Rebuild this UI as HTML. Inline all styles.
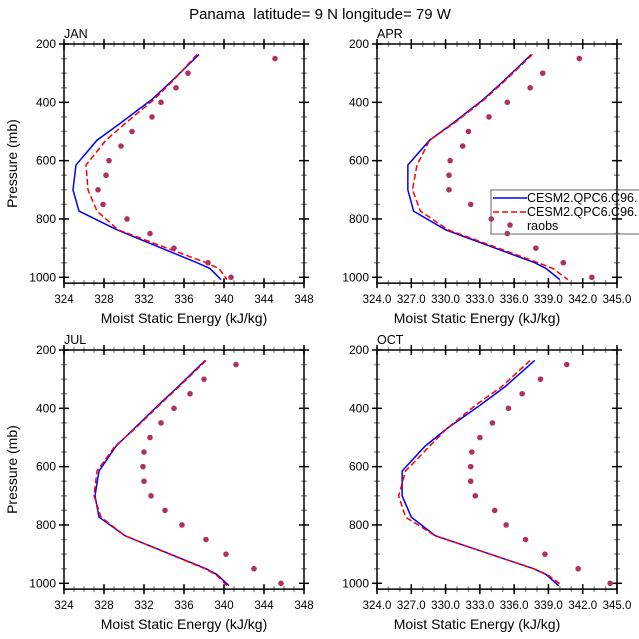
<!DOCTYPE html>
<html><head><meta charset="utf-8"><style>
html,body{margin:0;padding:0;background:#fff;}
svg{display:block;font-family:"Liberation Sans",sans-serif;}
</style></head><body>
<svg id="c" width="639" height="639" viewBox="0 0 639 639" xmlns="http://www.w3.org/2000/svg">
<text x="320" y="19" text-anchor="middle" font-size="15" style="white-space:pre">Panama  latitude= 9 N longitude= 79 W</text>
</svg>
<script>
const levels = [236, 326, 390, 470, 530, 615, 700, 773, 837, 950, 970, 1008];
const obsLevels = [250,300,350,400,450,500,550,600,650,700,750,800,850,900,950,1000];
const panelNames = ["JAN","APR","JUL","OCT"];
const janBlue = [337.5,334.8,332.8,329.7,327.3,325.2,324.9,325.5,329.3,337.3,338.6,339.7];
const janRed  = [337.3,334.9,333.0,330.2,328.2,326.2,326.4,327.3,329.4,338.2,339.5,340.3];
const janObs  = [345.1,336.4,335.2,333.7,332.8,330.8,329.7,328.5,328.2,327.4,327.9,330.3,332.6,335.0,338.4,340.7];
const aprBlue = [337.5,335.1,333.3,330.7,328.6,326.7,326.7,327.2,330.0,337.8,338.8,340.0];
const aprRed  = [337.6,335.2,333.4,330.8,328.6,327.5,327.1,327.8,330.2,338.1,339.4,340.7];
const aprObs  = [341.7,338.5,337.4,335.4,333.8,332.0,331.5,330.4,330.3,330.3,332.2,334.0,335.4,337.9,340.3,342.8];
const julBlue = [338.1,335.4,333.4,331.0,329.2,327.5,327.1,327.5,330.1,338.2,339.3,340.5];
const julRed  = [338.2,335.5,333.5,331.1,329.1,327.3,327.0,327.7,330.1,338.1,339.2,340.3];
const julObs  = [341.2,338.0,336.6,335.0,333.7,332.6,332.0,331.9,332.0,332.7,334.1,335.8,338.2,340.2,343.0,345.7];
const octBlue = [337.8,335.2,333.0,330.1,328.2,326.2,326.2,327.0,329.1,337.7,338.8,339.9];
const octRed  = [337.4,334.9,332.6,330.1,328.6,326.5,325.9,326.5,329.1,337.7,338.9,340.2];
const octObs  = [340.6,338.3,336.7,335.5,334.1,333.0,332.3,332.2,332.2,332.6,334.3,335.3,337.0,338.7,341.6,344.4];
const yTicks = [200,400,600,800,1000];
const xTicksA = [324,328,332,336,340,344,348];
const xTicksB = [324,327,330,333,336,339,342,345];
const legendLabels = ["CESM2.QPC6.C96.","CESM2.QPC6.C96.","raobs"];

const NS="http://www.w3.org/2000/svg";
const svg=document.getElementById('c');
function mk(tag,attrs,parent){const e=document.createElementNS(NS,tag);for(const k in attrs)e.setAttribute(k,attrs[k]);(parent||svg).appendChild(e);return e;}

const panels=[
 {name:panelNames[0],x0:64,x1:304,y0:44,blue:janBlue,red:janRed,obs:janObs,xt:xTicksA,xmin:324,xmax:348,dec:0},
 {name:panelNames[1],x0:377,x1:617,y0:44,blue:aprBlue,red:aprRed,obs:aprObs,xt:xTicksB,xmin:324,xmax:345,dec:1},
 {name:panelNames[2],x0:64,x1:304,y0:350,blue:julBlue,red:julRed,obs:julObs,xt:xTicksA,xmin:324,xmax:348,dec:0},
 {name:panelNames[3],x0:377,x1:617,y0:350,blue:octBlue,red:octRed,obs:octObs,xt:xTicksB,xmin:324,xmax:345,dec:1}
];
panels.forEach((p,i)=>{
  const g=mk('g',{});
  
  
  const ppx=233.3/800;
  const yS=v=>p.y0+(v-200)*ppx;
  const y1=yS(1020);
  const xS=v=>p.x0+(v-p.xmin)*(p.x1-p.x0)/(p.xmax-p.xmin);
  const cid='clip'+i;
  const cp=mk('clipPath',{id:cid},g);
  mk('rect',{x:p.x0,y:p.y0,width:p.x1-p.x0,height:y1-p.y0},cp);
  for(let v=250;v<=1000;v+=50){
    if(v%200===0)continue;
    const y=yS(v);
    mk('line',{x1:p.x0-3,x2:p.x0+3,y1:y,y2:y,stroke:'#999','stroke-width':1.5},g);
    mk('line',{x1:p.x1-3,x2:p.x1+3,y1:y,y2:y,stroke:'#999','stroke-width':1.5},g);
  }
  yTicks.forEach(v=>{
    const y=yS(v);
    mk('line',{x1:p.x0-5,x2:p.x0+5,y1:y,y2:y,stroke:'#000','stroke-width':1.5},g);
    mk('line',{x1:p.x1-5,x2:p.x1+5,y1:y,y2:y,stroke:'#000','stroke-width':1.5},g);
    const t=mk('text',{x:p.x0-8,y:y+4,'text-anchor':'end','font-size':12},g);
    t.textContent=v;
    
    
  });
  for(let v=p.xmin;v<=p.xmax;v+=1){
    const x=xS(v);
    mk('line',{x1:x,x2:x,y1:y1-3,y2:y1+3,stroke:'#999','stroke-width':1.5},g);
    mk('line',{x1:x,x2:x,y1:p.y0-3,y2:p.y0+3,stroke:'#999','stroke-width':1.5},g);
  }
  p.xt.forEach(v=>{
    const x=xS(v);
    mk('line',{x1:x,x2:x,y1:y1-5,y2:y1+5,stroke:'#000','stroke-width':1.5},g);
    mk('line',{x1:x,x2:x,y1:p.y0-5,y2:p.y0+5,stroke:'#000','stroke-width':1.5},g);
    const t=mk('text',{x:x,y:y1+20,'text-anchor':'middle','font-size':11.5},g);
    t.textContent=v.toFixed(p.dec);
    
    
  });
  const fr=mk('rect',{x:p.x0,y:p.y0,width:p.x1-p.x0,height:y1-p.y0,fill:'none',stroke:'#000','stroke-width':1.5},g);
  
  
  const lab=mk('text',{x:p.x0,y:p.y0-6,'font-size':12.5},g);
  lab.textContent=p.name;
  
  
  const xt=mk('text',{x:(p.x0+p.x1)/2-(i%2?20:0),y:y1+40,'text-anchor':'middle','font-size':14},g);
  xt.textContent='Moist Static Energy (kJ/kg)';
  
  
  if(i%2===0){
    const yt=mk('text',{x:0,y:0,'text-anchor':'middle','font-size':14,transform:`translate(17,${(p.y0+y1)/2}) rotate(-90)`},g);
    yt.textContent='Pressure (mb)';
    
    
  }
  const bp=mk('polyline',{points:levels.map((l,k)=>xS(p.blue[k])+','+yS(l)).join(' '),fill:'none',stroke:'#0000ff','stroke-width':1.5,'clip-path':`url(#${cid})`},g);
  
  
  const rp=mk('polyline',{points:levels.map((l,k)=>xS(p.red[k])+','+yS(l)).join(' '),fill:'none',stroke:'#ff0000','stroke-width':1.5,'stroke-dasharray':'6,3','clip-path':`url(#${cid})`},g);
  
  
  obsLevels.forEach((l,k)=>{
    const c=mk('circle',{cx:xS(p.obs[k]),cy:yS(l),r:2.8,fill:'#b03060'},g);
    
    
  });
});
const lg=mk('g',{});


mk('rect',{x:491,y:190,width:160,height:44,fill:'none',stroke:'#666','stroke-width':1},lg);
const le1=mk('line',{x1:493,x2:527,y1:198,y2:198,stroke:'#0000ff','stroke-width':1.5},lg);


const le2=mk('line',{x1:493,x2:527,y1:212,y2:212,stroke:'#ff0000','stroke-width':1.5,'stroke-dasharray':'6,3'},lg);


const le3=mk('circle',{cx:510,cy:225,r:2.8,fill:'#b03060'},lg);


legendLabels.forEach((s,k)=>{
  const t=mk('text',{x:527,y:202+k*14,'font-size':12.5},lg);
  t.textContent=s;
  
  
});
</script>
</body></html>
